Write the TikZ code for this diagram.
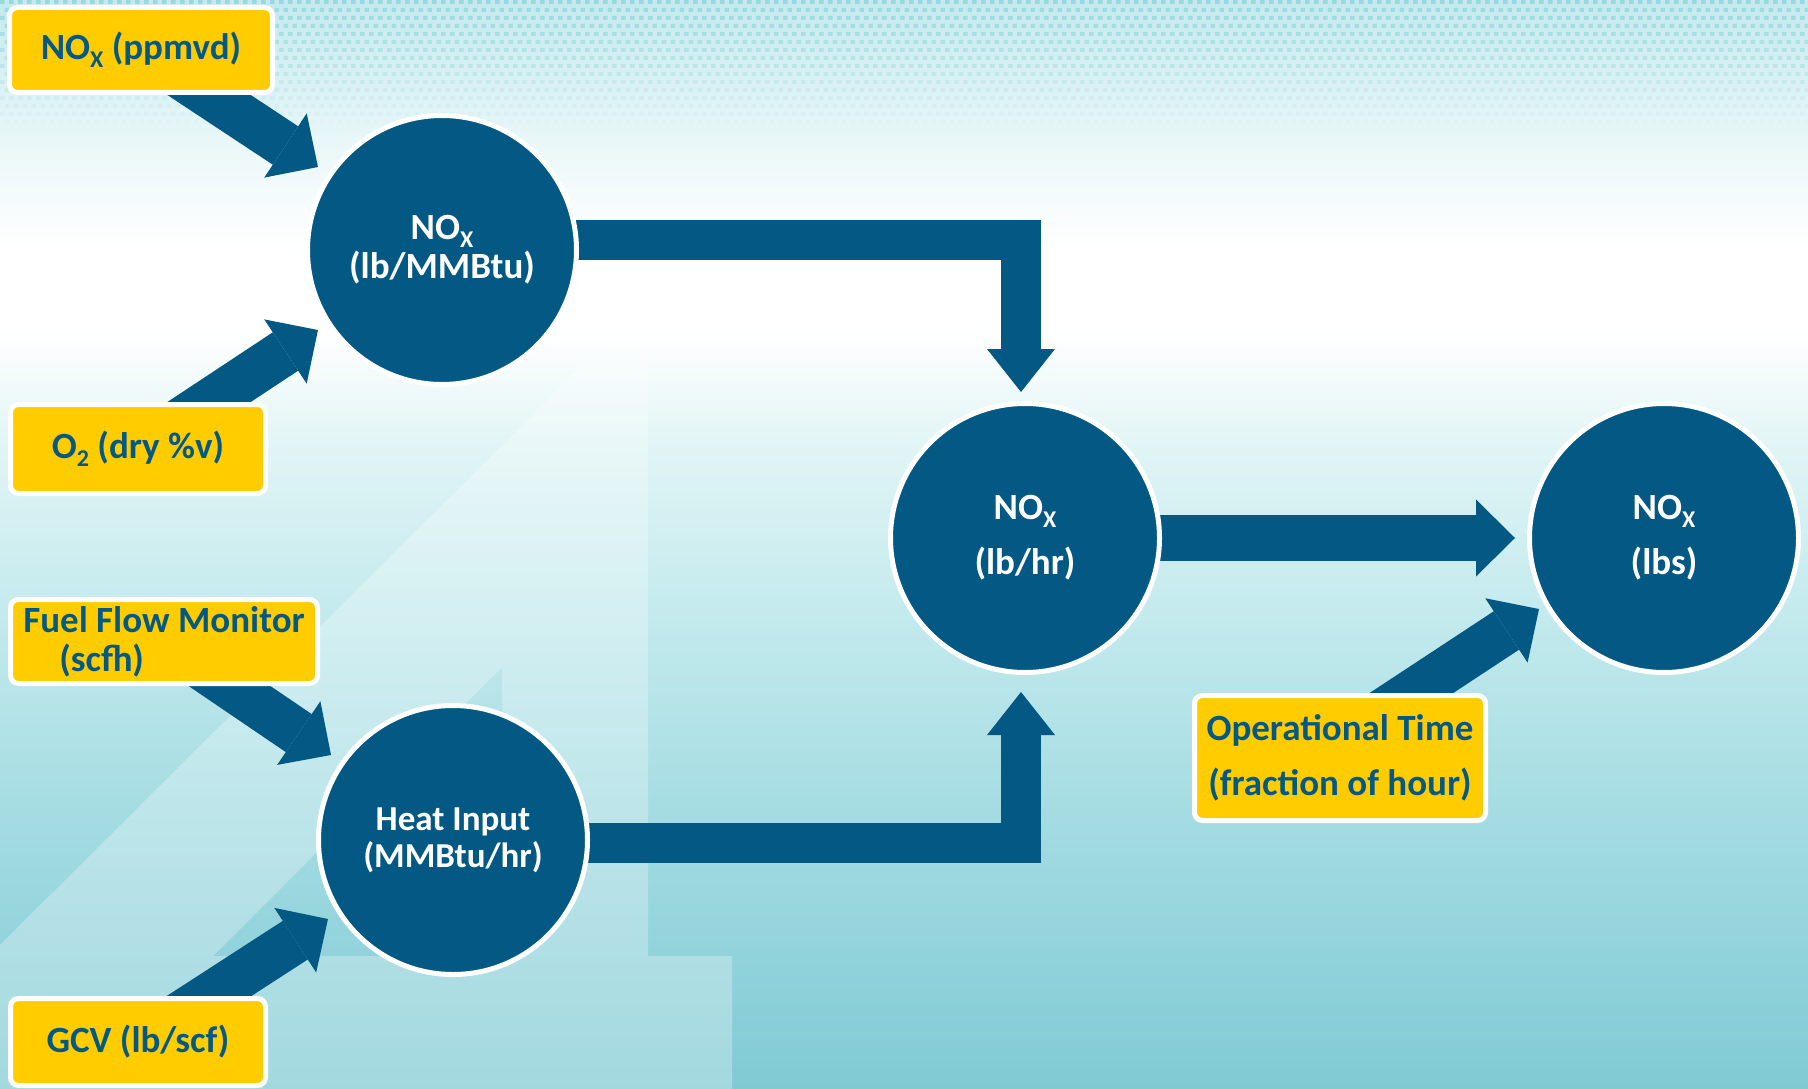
\documentclass[tikz,border=0pt]{standalone}
\usepackage{fontspec}
\setmainfont{Carlito}
\usetikzlibrary{arrows.meta,calc}

\definecolor{navy}{RGB}{3,89,131}
\definecolor{gold}{RGB}{255,204,0}
\definecolor{dots}{RGB}{112,200,210}
\definecolor{skyA}{RGB}{128,202,212}
\definecolor{skyB}{RGB}{166,221,227}
\definecolor{skyC}{RGB}{198,235,238}
\definecolor{skyD}{RGB}{224,244,245}
\definecolor{skyE}{RGB}{255,255,255}
\definecolor{skyF}{RGB}{236,248,249}
\definecolor{skyG}{RGB}{196,234,238}

% backdrop: teal at the bottom, white band in the upper middle, pale teal at the top
\pgfdeclareverticalshading{sky}{100bp}{%
  color(0bp)=(skyA); color(25bp)=(skyA); color(38.3bp)=(skyB);
  color(47.5bp)=(skyC); color(54.3bp)=(skyD); color(59.8bp)=(skyE);
  color(63.5bp)=(skyE); color(68bp)=(skyF); color(75bp)=(skyG); color(100bp)=(skyG)}

\pgfdeclarelayer{backdrop}
\pgfdeclarelayer{links}
\pgfsetlayers{backdrop,links,main}

% lowered small subscript (NO_X, O_2)
\newcommand\sbx[1]{\raisebox{-8pt}{\fontsize{24}{24}\selectfont #1}}

\tikzset{
  source/.style={rectangle, rounded corners=8pt, fill=gold, draw=white,
    line width=5pt, inner sep=0pt, text=navy,
    font=\fontsize{37}{39}\selectfont\bfseries},
  stage/.style={circle, fill=navy, draw=white, line width=5pt, inner sep=0pt,
    outer sep=0pt, minimum size=269pt, text=white, align=center},
  feed/.style={draw=navy, line width=46pt,
    -{Triangle[length=39pt,width=77pt,line width=0pt]}},
  elbow/.style={draw=navy, line width=40pt, line join=miter,
    -{Triangle[length=43pt,width=68pt,line width=0pt]}},
}

\begin{document}
\begin{tikzpicture}[x=1pt,y=-1pt]
\useasboundingbox (0,0) rectangle (1808,1089);

% input boxes
\node[source, minimum width=263pt, minimum height=85pt] (b1) at (141,50) {NO\sbx{X} (ppmvd)};
\node[source, minimum width=255pt, minimum height=89pt] (b2) at (138,449) {O\sbx{2} (dry \%v)};
\node[source, minimum width=307pt, minimum height=84pt, align=left] (b3) at (164,641.5)
  {Fuel Flow Monitor\\\hspace*{36pt}(scfh)};
\node[source, minimum width=255pt, minimum height=87pt] (b4) at (138,1042) {GCV (lb/scf)};
\node[source, minimum width=291pt, minimum height=125pt, align=center,
  font=\fontsize{37}{55}\selectfont\bfseries] (b5) at (1340,758)
  {Operational Time\\(fraction of hour)};

% calculation stages
\node[stage, font=\fontsize{37}{39}\selectfont\bfseries] (c1) at (442,250) {NO\sbx{X}\\(lb/MMBtu)};
\node[stage, font=\fontsize{35}{37}\selectfont\bfseries] (c2) at (453,840) {Heat Input\\(MMBtu/hr)};
\node[stage, font=\fontsize{37}{55}\selectfont\bfseries] (c3) at (1025,538) {NO\sbx{X}\\(lb/hr)};
\node[stage, font=\fontsize{37}{55}\selectfont\bfseries] (c4) at (1664,538) {NO\sbx{X}\\(lbs)};

% block arrows
\begin{pgfonlayer}{links}
  \draw[feed] (b1.center) -- ($(c1.center)+(-124,-83)$);
  \draw[feed] (b2.center) -- ($(c1.center)+(-124,80)$);
  \draw[feed] (b3.center) -- ($(c2.center)+(-122,-85)$);
  \draw[feed] (b4.center) -- ($(c2.center)+(-125,79)$);
  \draw[feed] (c3.center) -- ($(c4.center)+(-149,0)$);
  \draw[feed] ($(b5.center)+(0,-18)$) -- ($(c4.center)+(-125,71)$);
  \draw[elbow] ($(c1.center)+(0,-10.5)$) -| ($(c3.center)+(-4,-146)$);
  \draw[elbow] ($(c2.center)+(0,2.5)$) -| ($(c3.center)+(-4,154)$);
\end{pgfonlayer}

% background
\begin{pgfonlayer}{backdrop}
  \shade[shading=sky] (0,0) rectangle (1808,1089);
  \foreach \r in {0,...,15} {
    \pgfmathsetmacro\op{0.5*(1-\r/16)}
    \pgfmathsetmacro\off{mod(\r,2)*4.5}
    \fill[dots, opacity=\op]
      \foreach \x in {0,9,...,1800} { ({\x+\off},{\r*8}) rectangle ++(4.5,4) };
  }
  % large pale numeral in the lower left
  \fill[white, opacity=0.28, even odd rule]
    (648,300) -- (648,956) -- (732,956) -- (732,1089) -- (0,1089) -- (0,945) -- cycle
    (502,667) -- (502,956) -- (213,956) -- cycle;
\end{pgfonlayer}
\end{tikzpicture}
\end{document}
